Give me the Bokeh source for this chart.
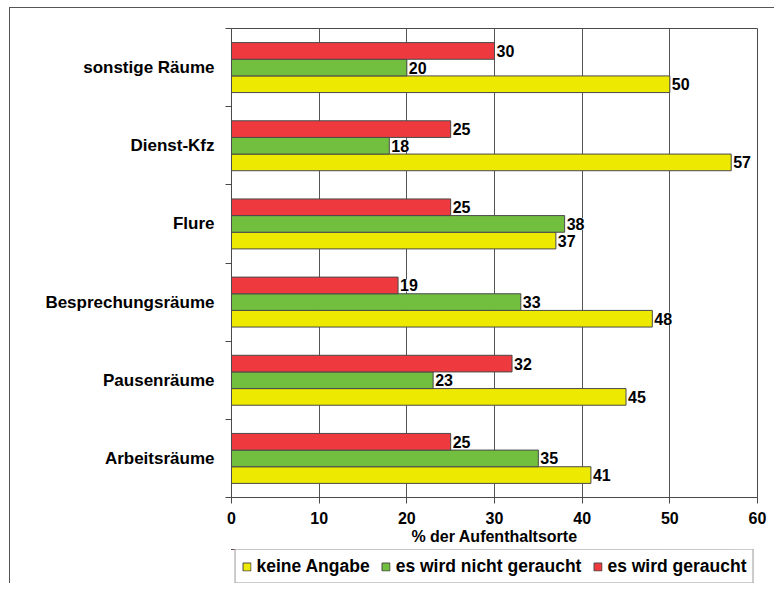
from bokeh.plotting import figure
from bokeh.layouts import column
from bokeh.models import (ColumnDataSource, FixedTicker, Legend, LegendItem,
                          LabelSet, Range1d)
from bokeh.core.properties import value
from bokeh.embed import file_html
from bokeh.resources import INLINE

# Rooms (bottom to top) and the share of locations per answer, in percent
categories = ["Arbeitsräume", "Pausenräume", "Besprechungsräume",
              "Flure", "Dienst-Kfz", "sonstige Räume"]
keine_angabe = [41, 45, 48, 37, 57, 50]
nicht_geraucht = [35, 23, 33, 38, 18, 20]
geraucht = [25, 32, 19, 25, 25, 30]
x_ticks = [0, 10, 20, 30, 40, 50, 60]
series_names = ["keine Angabe", "es wird nicht geraucht", "es wird geraucht"]
series_colors = ["#EEE900", "#72BE3E", "#EE3A3F"]

FONT = "Liberation Sans"
BAR_H = 0.213
OUTLINE = "#4a4a4a"

p = figure(frame_width=526, frame_height=469,
           min_border_left=221, min_border_top=20, min_border_right=17,
           min_border_bottom=0,
           x_range=Range1d(0, 60), y_range=Range1d(0, 6),
           output_backend="svg", toolbar_location=None)

centers = [i + 0.5 for i in range(len(categories))]
offsets = [-BAR_H, 0.0, BAR_H]
all_values = [keine_angabe, nicht_geraucht, geraucht]

sources = []
for name, color, vals, off in zip(series_names, series_colors, all_values, offsets):
    src = ColumnDataSource(dict(
        y=[c + off for c in centers],
        right=vals,
        label=[str(v) for v in vals],
    ))
    sources.append(src)
    p.hbar(y="y", left=0, right="right", height=BAR_H, source=src,
           fill_color=color, line_color=OUTLINE, line_width=1)
    p.add_layout(LabelSet(x="right", y="y", text="label", source=src,
                          x_offset=2, text_baseline="middle",
                          text_font=value(FONT), text_font_style="bold",
                          text_font_size="16px", text_color="black",
                          background_fill_color="white"))

# x axis
p.xaxis.ticker = FixedTicker(ticks=x_ticks)
p.xaxis.axis_label = "% der Aufenthaltsorte"
p.xaxis.axis_label_text_font = FONT
p.xaxis.axis_label_text_font_style = "bold"
p.xaxis.axis_label_text_font_size = "16px"
p.xaxis.axis_label_text_color = "black"
p.xaxis.axis_label_standoff = 1
p.xaxis.major_label_text_font = FONT
p.xaxis.major_label_text_font_style = "bold"
p.xaxis.major_label_text_font_size = "16px"
p.xaxis.major_label_text_color = "black"
p.xaxis.major_label_standoff = 8
p.xaxis.major_tick_out = 6
p.xaxis.major_tick_in = 0
p.xaxis.axis_line_color = OUTLINE
p.xaxis.major_tick_line_color = OUTLINE

# y axis: labels at category centres, ticks between categories
p.yaxis.ticker = FixedTicker(ticks=centers,
                             minor_ticks=list(range(len(categories) + 1)))
p.yaxis.major_label_overrides = {c: lab for c, lab in zip(centers, categories)}
p.yaxis.major_label_text_font = FONT
p.yaxis.major_label_text_font_style = "bold"
p.yaxis.major_label_text_font_size = "17px"
p.yaxis.major_label_text_color = "black"
p.yaxis.major_label_standoff = 11
p.yaxis.major_tick_out = 0
p.yaxis.major_tick_in = 0
p.yaxis.minor_tick_out = 6
p.yaxis.minor_tick_in = 0
p.yaxis.axis_line_color = OUTLINE
p.yaxis.minor_tick_line_color = OUTLINE

p.xgrid.ticker = FixedTicker(ticks=x_ticks)
p.xgrid.grid_line_color = "#555555"
p.ygrid.grid_line_color = None
p.outline_line_color = OUTLINE
p.outline_line_alpha = 1

# legend strip under the chart, aligned with the plotting frame;
# its renderers share the series data but lie outside this strip's view
lg = figure(frame_width=526, frame_height=34,
            min_border_left=221, min_border_right=17,
            min_border_top=2, min_border_bottom=0,
            x_range=Range1d(0, 60), y_range=Range1d(-2, -1),
            output_backend="svg", toolbar_location=None)
lg.axis.visible = False
lg.grid.visible = False
lg.outline_line_color = None
items = []
for name, color, src in zip(series_names, series_colors, sources):
    r = lg.hbar(y="y", left=0, right="right", height=BAR_H, source=src,
                fill_color=color, line_color=OUTLINE, line_width=1)
    items.append(LegendItem(label=name, renderers=[r]))
legend = Legend(items=items, orientation="horizontal", location="center",
                label_text_font=FONT, label_text_font_style="bold",
                label_text_font_size="17.5px", label_text_color="black",
                label_standoff=5,
                glyph_width=10, glyph_height=10, spacing=11, padding=6,
                margin=0, border_line_color="#333333", border_line_width=1,
                label_height=14)
lg.add_layout(legend, "center")

page = column(p, lg, spacing=0)
page.styles = {"margin-left": "9px", "margin-top": "7px",
               "border-left": "1px solid #555", "border-top": "1px solid #555"}

open("out.html", "w").write(file_html(page, INLINE))
